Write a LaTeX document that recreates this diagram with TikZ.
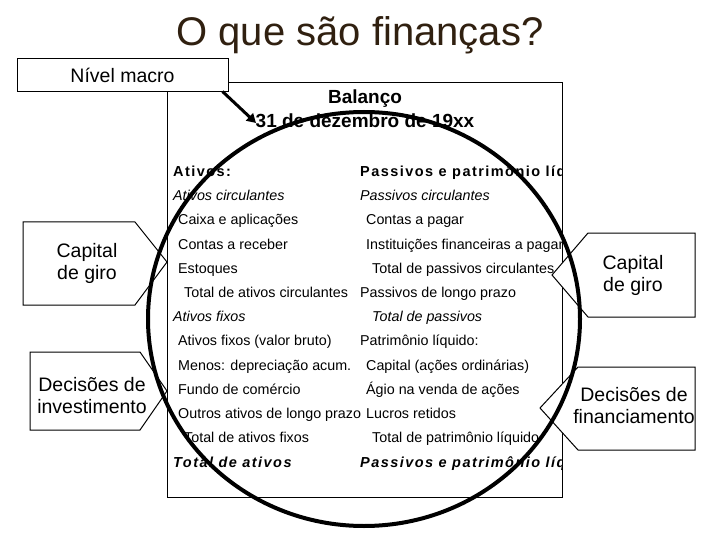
\documentclass[tikz,border=0pt]{standalone}
\usepackage{fontspec}
\setmainfont{Liberation Sans}
\usetikzlibrary{arrows.meta}
\begin{document}
\begin{tikzpicture}[x=1pt,y=-1pt,
  row/.style={anchor=base west,inner sep=0pt,font=\fontsize{14.3}{17}\selectfont},
  call/.style={draw,line width=1pt,fill=white},
  ctext/.style={align=center,font=\fontsize{19.5}{22}\selectfont,inner sep=0pt}]
\useasboundingbox (0,0) rectangle (720,540);
\node[text=black!75!brown,font=\fontsize{40}{44}\selectfont] (title) at (360,35) {O que são finanças?};
% balance sheet
\draw[line width=1pt] (167,83) rectangle (562,497);
\begin{scope}
\clip (167,83) rectangle (562,497);
\node[font=\bfseries\fontsize{19}{21}\selectfont,anchor=base] (h1) at (365,104) {Balanço};
\node[font=\bfseries\fontsize{19}{21}\selectfont,anchor=base] (h2) at (365,128) {31 de dezembro de 19xx};
\def\L{173}\def\R{360}
\node[row,font=\bfseries\fontsize{14.5}{17}\selectfont\addfontfeature{LetterSpace=10}] (l1) at (\L,177) {Ativos:};
\node[row,font=\itshape\fontsize{14.3}{17}\selectfont] (l2) at (\L,201) {Ativos circulantes};
\node[row] (l3) at (\L+5,225) {Caixa e aplicações};
\node[row] (l4) at (\L+5,249) {Contas a receber};
\node[row] (l5) at (\L+5,273) {Estoques};
\node[row] (l6) at (\L+11,297) {Total de ativos circulantes};
\node[row,font=\itshape\fontsize{14.3}{17}\selectfont] (l7) at (\L,321) {Ativos fixos};
\node[row] (l8) at (\L+5,345) {Ativos fixos (valor bruto)};
\node[row] (l9) at (\L+5,370) {Menos: depreciação acum.};
\node[row] (l10) at (\L+5,394) {Fundo de comércio};
\node[row] (l11) at (\L+5,418) {Outros ativos de longo prazo};
\node[row] (l12) at (\L+11,442) {Total de ativos fixos};
\node[row,font=\bfseries\itshape\fontsize{14.5}{17}\selectfont\addfontfeature{LetterSpace=10}] (l13) at (\L,467) {Total de ativos};
\node[row,font=\bfseries\fontsize{14.5}{17}\selectfont\addfontfeature{LetterSpace=10}] (r1) at (\R,177) {Passivos e patrimônio líquido};
\node[row,font=\itshape\fontsize{14.3}{17}\selectfont] (r2) at (\R,201) {Passivos circulantes};
\node[row] (r3) at (\R+6,225) {Contas a pagar};
\node[row] (r4) at (\R+6,249) {Instituições financeiras a pagar};
\node[row] (r5) at (\R+12,273) {Total de passivos circulantes};
\node[row] (r6) at (\R,297) {Passivos de longo prazo};
\node[row,font=\itshape\fontsize{14.3}{17}\selectfont] (r7) at (\R+12,321) {Total de passivos};
\node[row] (r8) at (\R,345) {Patrimônio líquido:};
\node[row] (r9) at (\R+6,370) {Capital (ações ordinárias)};
\node[row] (r10) at (\R+6,394) {Ágio na venda de ações};
\node[row] (r11) at (\R+6,418) {Lucros retidos};
\node[row] (r12) at (\R+12,442) {Total de patrimônio líquido};
\node[row,font=\bfseries\itshape\fontsize{14.5}{17}\selectfont\addfontfeature{LetterSpace=10}] (r13) at (\R,467) {Passivos e patrimônio líquido};
\end{scope}
% callouts
\draw[call] (23,222) -- (135,222) -- (167,262) -- (135,305) -- (23,305) -- cycle;
\node[ctext] (cg1) at (87,263) {Capital\\de giro};
\draw[call] (30,352) -- (140,352) -- (167,391) -- (140,430) -- (30,430) -- cycle;
\node[ctext] (di) at (92,396) {Decisões de\\investimento};
\draw[call] (695,233) -- (588,233) -- (552,275) -- (588,317) -- (695,317) -- cycle;
\node[ctext] (cg2) at (633,275) {Capital\\de giro};
\draw[call] (695,367) -- (578,367) -- (540,408) -- (578,450) -- (695,450) -- cycle;
\node[ctext] (df) at (634,406) {Decisões de\\financiamento};
% ellipse
\draw[line width=4pt] (364,319) ellipse[x radius=216,y radius=207];
% nivel macro
\node[draw,line width=1pt,fill=white,minimum width=211,minimum height=33,inner sep=0pt,font=\fontsize{19.5}{21}\selectfont] (nm) at (122.5,75.5) {Nível macro};
\coordinate (nmt) at (256,123);
\draw[line width=3pt,-{Triangle[length=9pt,width=10pt]}] (nm.south east)++(-6,-1) -- (nmt);
\end{tikzpicture}
\end{document}
